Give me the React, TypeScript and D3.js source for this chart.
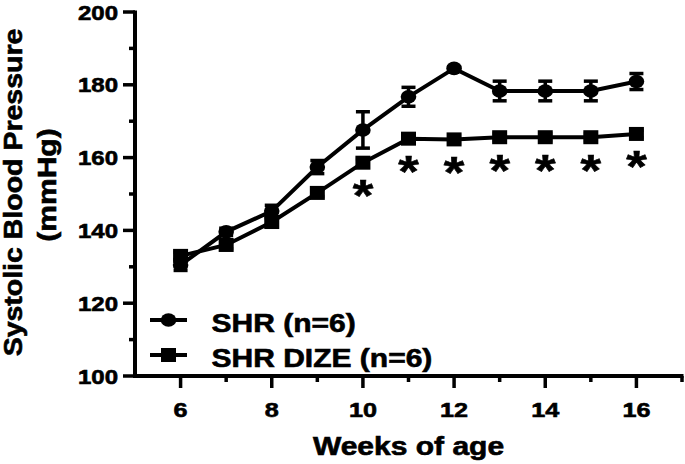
import React from 'react';
import * as d3 from 'd3';

const weeks = [6, 7, 8, 9, 10, 11, 12, 13, 14, 15, 16];
const shrMean = [130.5, 139.6, 145.3, 157.4, 167.6, 176.7, 184.5, 178.3, 178.3, 178.3, 180.9];
const shrSem = [1.5, 1.0, 1.6, 1.8, 5.0, 2.6, 0.5, 2.7, 2.7, 2.7, 2.2];
const dizeMean = [133.0, 136.0, 142.3, 150.3, 158.6, 165.2, 165.0, 165.6, 165.6, 165.6, 166.5];
const dizeSem = [1.0, 1.0, 1.0, 1.0, 1.0, 1.0, 1.0, 1.0, 1.0, 1.0, 1.0];
const sigWeeks = [10, 11, 12, 13, 14, 15, 16];
const yTicks = [100, 120, 140, 160, 180, 200];
const yMinor = [110, 130, 150, 170, 190];
const xTicks = [6, 8, 10, 12, 14, 16];
const xMinor = [7, 9, 11, 13, 15, 17];
const legendLabels = ['SHR (n=6)', 'SHR DIZE (n=6)'];

const W = 685;
const H = 464;
const SX = 1.2;
const FONT = "'Liberation Sans', Arial, Helvetica, sans-serif";
const TS = 0.6; // text stroke for heavier weight

export default function App() {
  const x = d3.scaleLinear().domain([5, 17]).range([135, 682]);
  const y = d3.scaleLinear().domain([100, 200]).range([376, 12]);
  const line = d3
    .line<[number, number]>()
    .x((d) => x(d[0]))
    .y((d) => y(d[1]));
  const shrPts = weeks.map((w, i) => [w, shrMean[i]] as [number, number]);
  const dizePts = weeks.map((w, i) => [w, dizeMean[i]] as [number, number]);

  const errBars = (means: number[], sems: number[], key: string) =>
    weeks.map((w, i) => {
      const cx = x(w);
      const y1 = y(means[i] + sems[i]);
      const y2 = y(means[i] - sems[i]);
      return (
        <g key={key + i} stroke="#000" strokeWidth={3.5}>
          <line x1={cx} x2={cx} y1={y1} y2={y2} />
          <line x1={cx - 7} x2={cx + 7} y1={y1} y2={y1} />
          <line x1={cx - 7} x2={cx + 7} y1={y2} y2={y2} />
        </g>
      );
    });

  const stretchText = (
    tx: number,
    ty: number,
    txt: string,
    size: number,
    anchor: string,
    key?: string
  ) => (
    <text
      key={key}
      transform={`translate(${tx},${ty}) scale(${SX},1)`}
      fontSize={size}
      fontWeight="bold"
      fontFamily={FONT}
      textAnchor={anchor}
      fill="#000"
      stroke="#000"
      strokeWidth={TS}
    >
      {txt}
    </text>
  );

  return (
    <svg
      width={W}
      height={H}
      style={{ position: 'absolute', left: 0, top: 0, background: '#fff' }}
    >
      <rect width={W} height={H} fill="#fff" />
      {/* Y axis */}
      <line x1={135} x2={135} y1={y(200) - 1.5} y2={y(100) + 2} stroke="#000" strokeWidth={4} />
      {yTicks.map((t) => (
        <line key={'yt' + t} x1={123} x2={135} y1={y(t)} y2={y(t)} stroke="#000" strokeWidth={3.5} />
      ))}
      {yMinor.map((t) => (
        <line key={'ym' + t} x1={129} x2={135} y1={y(t)} y2={y(t)} stroke="#000" strokeWidth={3.5} />
      ))}
      {yTicks.map((t) => stretchText(118, y(t) + 7.5, String(t), 20, 'end', 'yl' + t))}
      {/* X axis */}
      <line x1={133} x2={x(17) + 1.5} y1={376} y2={376} stroke="#000" strokeWidth={4} />
      {xTicks.map((t) => (
        <line key={'xt' + t} x1={x(t)} x2={x(t)} y1={376} y2={388} stroke="#000" strokeWidth={3.5} />
      ))}
      {xMinor.map((t) => (
        <line key={'xm' + t} x1={x(t)} x2={x(t)} y1={376} y2={382} stroke="#000" strokeWidth={3.5} />
      ))}
      {xTicks.map((t) => stretchText(x(t), 417, String(t), 21, 'middle', 'xl' + t))}
      {/* Axis titles */}
      {stretchText((x(5) + x(17)) / 2, 455, 'Weeks of age', 25, 'middle')}
      <text
        transform={`translate(22,192.5) rotate(-90) scale(1.14,1)`}
        fontSize={25}
        fontWeight="bold"
        fontFamily={FONT}
        textAnchor="middle"
        stroke="#000"
        strokeWidth={TS}
      >
        Systolic Blood Pressure
      </text>
      <text
        transform={`translate(56,185) rotate(-90) scale(${SX},1)`}
        fontSize={25}
        fontWeight="bold"
        fontFamily={FONT}
        textAnchor="middle"
        stroke="#000"
        strokeWidth={TS}
      >
        (mmHg)
      </text>
      {/* Lines */}
      <path d={line(shrPts) || ''} fill="none" stroke="#000" strokeWidth={4} />
      <path d={line(dizePts) || ''} fill="none" stroke="#000" strokeWidth={4} />
      {/* SHR error bars and markers */}
      {errBars(shrMean, shrSem, 'se')}
      {weeks.map((w, i) => (
        <ellipse key={'sc' + i} cx={x(w)} cy={y(shrMean[i])} rx={7.8} ry={6.8} fill="#000" />
      ))}
      {/* DIZE error bars and markers */}
      {errBars(dizeMean, dizeSem, 'de')}
      {weeks.map((w, i) => (
        <rect key={'dr' + i} x={x(w) - 7.5} y={y(dizeMean[i]) - 7} width={15} height={14} fill="#000" />
      ))}
      {/* Significance asterisks */}
      {sigWeeks.map((w) => {
        const i = weeks.indexOf(w);
        return stretchText(x(w), y(dizeMean[i]) + 24.5 + 24, '*', 44, 'middle', 'as' + w);
      })}
      {/* Legend */}
      <line x1={150} x2={187} y1={320} y2={320} stroke="#000" strokeWidth={4} />
      <ellipse cx={168.5} cy={320} rx={7.8} ry={6.8} fill="#000" />
      <line x1={150} x2={187} y1={355} y2={355} stroke="#000" strokeWidth={4} />
      <rect x={161} y={348} width={15} height={14} fill="#000" />
      {stretchText(211.5, 331.5, legendLabels[0], 25, 'start')}
      {stretchText(211.5, 366.5, legendLabels[1], 25, 'start')}
    </svg>
  );
}
